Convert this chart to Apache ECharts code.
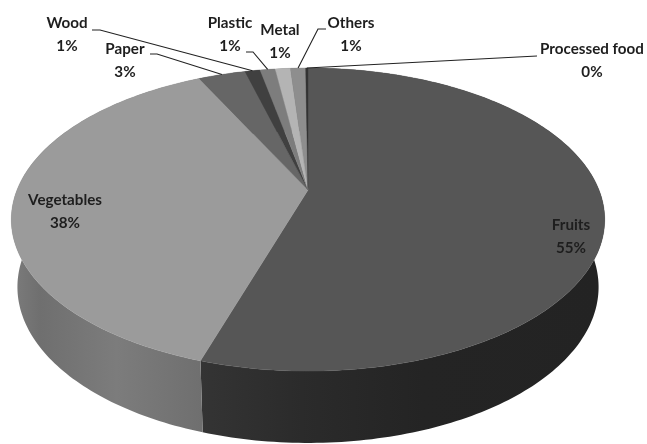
<!DOCTYPE html>
<html>
<head>
<meta charset="utf-8">
<style>html,body{margin:0;padding:0;background:#fff}#c{width:647px;height:444px}</style>
<script src="https://cdn.jsdelivr.net/npm/echarts@6/dist/echarts.min.js"></script>
</head>
<body>
<div id="c"></div>
<script>
const categories = ['Fruits','Vegetables','Paper','Wood','Plastic','Metal','Others','Processed food'];
const shares = [55, 38, 3.1, 1, 1, 1, 1, 0.15];

const topColors = ['#565656','#9b9b9b','#666666','#404040','#7d7d7d','#b4b4b4','#8e8e8e','#333333'];
const total = shares.reduce((a,b)=>a+b,0);
let run = 0;
const spans = shares.map(v=>{const s=run/total*360; run+=v; return [s, run/total*360];});

// perspective projection of a unit disc
const K = 0.195;
const topDisc = {cx:308, cy:190, a:291, b:145.8};
const botDisc = {cx:308, cy:256.6, a:285, b:150};
function project(d, deg){
  const t = deg*Math.PI/180, u = Math.sin(t), v = Math.cos(t), w = 1+K*v;
  return [d.cx + d.a*u/w, d.cy - d.b*v/w];
}
function arc(d, s, e){
  const pts=[], n=Math.max(2,Math.ceil(e-s));
  for(let i=0;i<=n;i++) pts.push(project(d, s+(e-s)*i/n));
  return pts;
}
const grad = stops => new echarts.graphic.LinearGradient(0,0,1,0,stops.map((c,i)=>({offset:c[0],color:c[1]})));
const wallFill = i => i===0
  ? grad([[0,'#343434'],[0.25,'#2b2b2b'],[0.55,'#242424'],[1,'#232323']])
  : i===1
  ? grad([[0,'#7c7c7c'],[0.15,'#6f6f6f'],[0.55,'#7c7c7c'],[1,'#6f6f6f']])
  : '#555555';

// label placement: [centre x, centre y of the two-line block, leader path start points]
const labelPlace = {
  'Fruits':[571,237,null],
  'Vegetables':[65,212,null],
  'Paper':[125,61,[[150,54],[157,54]]],
  'Wood':[67,35,[[92,30],[100,30]]],
  'Plastic':[230,35,[[246,52],[253,52]]],
  'Metal':[280,42,null],
  'Others':[351,35,[[326,29],[318,29]]],
  'Processed food':[592,61,[[537,56]]]
};
const rows = spans.map((s,i)=>[s[0],s[1],i]);

const option = {
  backgroundColor:'#ffffff',
  animation:false,
  series:[
    {type:'custom',coordinateSystem:'none',z:1,silent:true,data:rows,
     renderItem:(p,api)=>{
       const s=api.value(0),e=api.value(1),i=api.value(2);
       const pts=arc(topDisc,s,e).concat(arc(botDisc,s,e).reverse());
       return {type:'polygon',shape:{points:pts},style:{fill:wallFill(i),stroke:null}};
     }},
    {type:'custom',coordinateSystem:'none',z:2,silent:true,data:rows,
     renderItem:(p,api)=>{
       const s=api.value(0),e=api.value(1),i=api.value(2);
       const pts=[[topDisc.cx,topDisc.cy]].concat(arc(topDisc,s,e));
       return {type:'polygon',shape:{points:pts},style:{fill:topColors[i],stroke:topColors[i],lineWidth:0.4}};
     }},
    {type:'custom',coordinateSystem:'none',z:3,silent:true,data:rows,
     renderItem:(p,api)=>{
       const s=api.value(0),e=api.value(1),i=api.value(2);
       const name=categories[i], pl=labelPlace[name], kids=[];
       if(pl[2]){
         kids.push({type:'polyline',shape:{points:pl[2].concat([project(topDisc,(s+e)/2)])},
           style:{fill:null,stroke:'#222222',lineWidth:1.1}});
       }
       kids.push({type:'text',style:{x:pl[0],y:pl[1],text:name+'\n'+Math.round(shares[i]/total*100)+'%',
         align:'center',verticalAlign:'middle',textAlign:'center',textVerticalAlign:'middle',
         fill:'#1e1e1e',fontFamily:'Lato',fontWeight:'bold',fontSize:15.2,lineHeight:23}});
       return {type:'group',children:kids};
     }}
  ]
};
const chart = echarts.init(document.getElementById('c'),null,{renderer:'canvas'});
chart.setOption(option);
</script>
</body>
</html>
